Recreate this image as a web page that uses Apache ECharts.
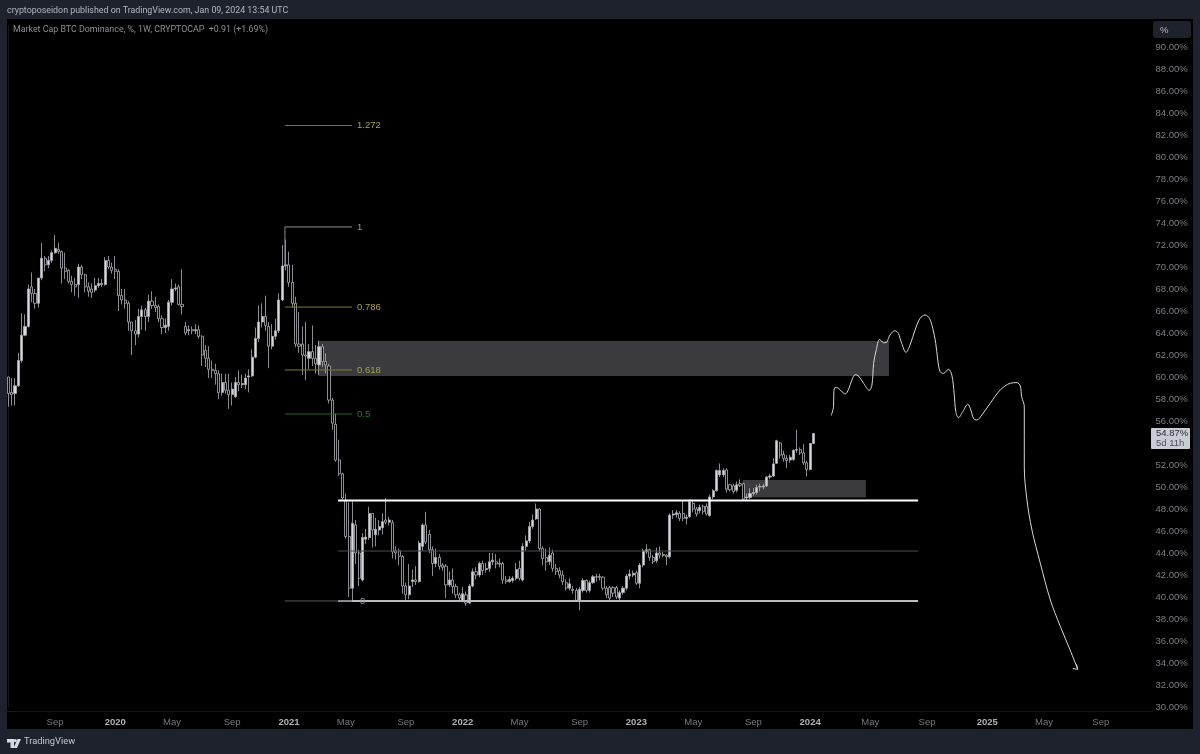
<!DOCTYPE html>
<html>
<head>
<meta charset="utf-8">
<title>BTC Dominance</title>
<style>
  html, body { margin: 0; padding: 0; background: #1e222d; }
  #main { width: 1200px; height: 754px; }
</style>
</head>
<body>
<div id="main"></div>
<script src="https://cdn.jsdelivr.net/npm/echarts@6/dist/echarts.min.js"></script>
<script>
// weekly candles, first bar is the week of 2019-05-27
var firstWeek = '2019-05-27'
var weekCount = 343

var opens = [
  60.0,58.6,58.5,59.2,61.5,63.8,64.6,68.2,67.6,66.7,
  69.0,70.8,70.2,70.6,71.3,71.6,71.4,69.9,69.7,68.7,
  68.4,68.4,70.0,69.3,68.2,68.0,67.9,68.3,68.4,68.4,
  70.6,70.0,69.8,69.6,67.4,67.0,66.7,65.0,64.2,63.9,
  65.5,66.1,65.5,66.9,66.5,66.4,65.3,64.5,64.6,66.8,
  68.0,68.2,66.6,64.6,64.2,64.3,64.2,64.3,63.7,62.4,
  61.7,60.7,60.6,60.3,58.6,59.5,58.8,58.4,58.2,59.5,
  59.3,59.3,60.0,60.1,61.8,63.5,65.0,65.5,64.6,62.8,
  63.7,64.2,67.0,70.1,70.2,68.6,66.7,63.0,63.0,62.0,
  61.7,62.3,61.7,61.1,62.75,61.4,61.0,57.9,55.7,52.45,
  51.2,48.8,45.5,40.8,46.55,44.0,41.55,45.25,45.4,47.6,
  45.65,46.1,46.3,47.0,46.8,46.75,44.2,44.2,43.7,41.0,
  40.2,41.4,41.55,41.4,44.6,46.55,45.7,44.3,43.05,43.6,
  42.9,42.8,41.1,41.55,40.95,40.2,39.7,40.2,39.45,41.0,
  42.3,42.0,43.05,42.5,42.6,43.2,43.2,43.0,43.05,41.55,
  41.4,41.5,41.7,42.6,41.55,44.6,45.1,46.4,47.1,48.0,
  44.4,43.6,43.2,44.0,42.6,42.4,42.0,41.3,40.8,40.7,
  40.6,39.7,40.6,41.5,40.6,41.3,41.85,41.8,41.8,40.8,
  40.85,40.85,40.85,39.9,40.4,40.8,41.9,42.0,42.2,41.25,
  42.9,44.1,44.3,43.6,43.3,44.0,43.8,43.8,43.65,47.45,
  47.5,47.6,47.6,47.15,47.3,48.5,48.0,47.85,48.25,48.25,
  47.4,49.1,49.65,51.1,51.1,51.55,50.2,50.1,49.7,50.3,
  50.3,49.0,49.05,49.4,49.5,50.0,50.0,50.1,50.9,51.0,
  52.15,54.0,52.95,52.6,52.45,52.5,53.35,53.4,53.1,52.2,
  51.6,53.96
]
var closes = [
  58.5,58.4,59.2,61.5,63.8,64.6,68.0,67.6,66.7,69.0,
  70.8,70.2,70.6,71.3,71.7,71.4,69.9,69.6,68.7,68.4,
  68.2,70.0,69.3,68.2,67.8,67.7,68.3,68.5,68.5,70.6,
  70.0,69.7,69.6,67.4,67.0,66.7,65.0,64.2,63.9,65.5,
  66.1,65.5,66.9,66.5,66.3,65.3,64.5,64.7,66.8,68.0,
  68.1,66.6,66.4,64.0,64.3,64.2,64.3,63.7,62.0,61.7,
  60.7,60.6,60.3,58.6,59.5,58.8,58.4,58.9,59.5,59.3,
  59.4,59.9,60.1,61.8,63.5,65.0,65.5,64.7,62.8,63.7,
  64.2,67.0,70.1,70.2,68.6,66.7,63.0,62.8,62.0,61.9,
  62.3,61.7,61.2,62.75,61.4,61.1,57.9,55.8,52.45,51.2,
  49.0,45.5,40.8,46.7,44.0,41.7,45.4,45.45,47.6,46.1,
  46.15,46.4,46.85,46.8,47.0,44.1,44.0,43.7,41.0,40.2,
  41.0,41.55,41.4,44.9,46.55,45.0,44.3,43.05,43.6,42.8,
  42.7,41.1,41.55,40.95,40.2,39.9,40.3,39.45,41.0,42.3,
  42.0,43.05,42.4,42.6,43.2,43.35,43.0,43.05,41.55,41.4,
  41.6,41.7,42.5,41.7,44.6,45.1,46.4,47.0,48.0,44.4,
  43.5,43.2,43.8,42.6,42.3,42.0,41.4,40.8,41.2,40.6,
  39.7,40.7,41.5,40.6,41.3,41.85,41.8,41.85,40.8,40.2,
  39.9,40.35,40.0,40.4,40.8,41.9,42.1,42.15,41.25,42.9,
  44.2,44.3,43.6,43.2,44.0,43.8,43.85,43.65,47.45,47.55,
  47.65,47.15,47.15,47.25,48.65,48.0,47.55,48.15,47.75,47.55,
  49.1,49.65,51.5,51.5,51.5,49.8,49.75,49.6,50.2,50.15,
  48.9,49.1,49.4,49.5,49.95,50.05,50.1,50.9,51.0,52.1,
  54.2,52.9,52.6,52.4,52.7,53.35,53.4,53.1,52.2,51.6,
  53.95,54.87
]
var lows = [
  57.3,57.4,57.4,59.1,61.3,63.7,64.5,66.8,66.2,66.3,
  68.8,69.6,69.9,70.4,71.2,71.2,68.5,68.9,68.5,67.7,
  67.4,67.2,68.9,67.7,67.3,67.2,67.7,68.1,68.2,68.3,
  69.8,69.4,68.9,66.0,66.6,66.2,64.2,62.0,62.9,63.6,
  64.3,64.2,65.0,66.2,65.9,65.0,63.9,64.0,64.2,66.5,
  67.8,66.5,65.7,63.8,63.8,63.9,63.9,63.5,61.0,60.9,
  59.9,59.9,59.3,58.0,58.3,58.5,57.1,57.4,58.1,58.7,
  59.0,58.9,58.6,60.0,61.7,63.2,64.5,64.2,60.8,62.5,
  63.4,64.0,66.9,69.7,68.2,66.3,62.7,62.2,60.2,59.7,
  60.7,61.0,60.3,60.2,60.9,60.33,57.6,55.2,52.3,51.0,
  48.9,45.3,40.0,39.7,43.0,41.0,41.4,44.8,45.2,44.5,
  44.6,45.6,45.7,46.6,46.5,43.5,43.4,42.9,40.3,39.7,
  39.8,40.9,41.1,41.3,44.2,44.8,44.0,41.9,42.7,42.5,
  42.4,39.9,40.9,40.3,39.9,39.7,39.5,39.2,39.4,40.9,
  41.6,41.8,42.0,42.2,42.3,42.9,42.6,42.7,41.2,41.2,
  41.3,41.3,41.5,41.5,41.4,44.2,44.9,46.2,47.0,44.2,
  42.9,42.4,42.9,42.3,42.0,41.7,41.1,40.6,40.6,40.3,
  39.6,38.8,40.4,40.4,40.4,41.2,41.4,41.5,40.6,39.9,
  39.7,40.0,39.8,39.7,40.2,40.6,41.6,41.8,41.1,40.8,
  42.7,43.9,43.3,43.0,43.1,43.5,43.6,42.9,43.5,47.1,
  47.2,46.9,46.9,46.6,47.2,47.7,47.3,47.6,47.5,47.4,
  47.3,48.9,49.6,50.9,50.9,49.5,49.6,49.4,49.5,50.0,
  48.8,48.8,48.9,49.2,49.3,49.6,49.8,50.0,50.7,50.9,
  52.1,52.6,52.3,51.7,52.2,52.4,53.1,52.9,52.0,50.95,
  51.5,53.9
]
var highs = [
  60.0,59.9,59.9,62.2,65.8,65.7,68.4,69.5,68.0,69.0,
  72.2,71.0,71.0,71.5,72.9,72.2,71.5,71.3,69.8,69.2,
  69.0,70.3,70.2,69.4,68.6,68.5,69.0,69.0,68.9,70.9,
  71.0,70.4,71.0,69.8,68.0,68.0,66.9,65.0,65.2,66.2,
  66.5,66.3,67.5,67.8,67.3,66.6,65.6,65.3,67.0,68.9,
  68.5,68.4,69.8,65.0,64.7,64.6,64.8,64.7,63.8,62.9,
  62.8,61.5,61.2,60.6,60.3,60.3,60.3,59.5,60.0,60.6,
  60.2,60.3,60.7,62.5,64.5,66.5,66.7,67.4,65.0,64.8,
  65.3,67.6,72.0,72.5,71.4,70.2,67.3,65.9,64.6,65.0,
  63.0,64.7,62.9,63.3,63.0,62.15,61.2,58.1,56.7,54.3,
  51.3,49.4,48.6,48.7,47.0,44.3,45.8,46.2,48.2,47.6,
  47.2,47.0,47.6,49.0,47.3,47.0,44.6,44.4,43.8,41.3,
  43.0,42.5,42.8,45.1,46.7,47.75,46.1,44.6,44.4,43.9,
  43.1,43.0,42.3,42.6,41.2,40.4,40.9,40.5,41.2,42.6,
  42.7,43.2,43.3,43.1,44.0,44.0,43.9,43.5,43.2,41.9,
  41.9,41.9,43.1,43.3,44.9,45.6,46.8,47.5,48.5,48.1,
  44.6,44.4,44.5,44.3,43.0,42.7,42.4,41.6,41.7,41.0,
  40.8,40.9,41.7,41.6,41.5,42.0,42.1,42.1,41.9,41.0,
  41.0,41.0,41.0,40.6,41.0,42.1,42.5,42.4,42.4,43.1,
  44.4,44.8,44.4,43.8,44.5,44.6,44.1,43.9,47.6,47.9,
  47.9,47.8,48.8,47.5,48.9,48.8,48.2,48.4,48.4,48.5,
  49.3,49.8,51.6,52.15,51.7,51.7,50.3,50.3,50.5,50.7,
  50.4,49.4,49.9,49.9,50.2,50.3,50.3,51.0,51.2,52.6,
  54.3,54.1,53.3,52.9,52.9,53.4,55.2,53.6,53.9,52.4,
  54.0,54.9
]

// time axis labels
var tickDates = ['2019-09-02','2020-01-06','2020-05-04','2020-09-07','2021-01-04','2021-05-03','2021-09-06','2022-01-03','2022-05-02','2022-09-05','2023-01-02','2023-05-01','2023-09-04','2024-01-01','2024-05-06','2024-09-02','2025-01-06','2025-05-05','2025-09-01']
var tickLabels = ['Sep','2020','May','Sep','2021','May','Sep','2022','May','Sep','2023','May','Sep','2024','May','Sep','2025','May','Sep']

// fib levels, x is in weeks since firstWeek
var fibNames = ['1.272','1','0.786','0.618','0.5','0']
var fibValues = [82.86,73.64,66.36,60.64,56.64,39.64]
var fibColors = ['#7f7a30','#8f8f96','#7f7a30','#7f7a30','#1f6a22','#5a5a5e']
var fibLabelColors = ['#a8a24a','#9a9aa0','#a8a24a','#a8a24a','#2a7a2e','#a0a0a6']
var fibStart = 82.8
var fibEnd = 102.9

// range lines
var rangeValues = [48.77,44.18,39.64]
var rangeColors = ['#ffffff','#4e4e52','#bcbcc0']
var rangeWidths = [2,1,2]
var rangeStart = 98.7
var rangeEnd = 272.3

// the two zones
var zoneStarts = [92.7,219.8]
var zoneEnds = [263.6,256.7]
var zoneTops = [63.27,50.64]
var zoneBottoms = [60.09,49.05]

// hand drawn projection
var drawWeeks = [246.3,247.0,247.1,247.5,248.5,249.5,250.5,251.5,252.5,253.5,254.5,256.0,257.7,258.5,259.0,259.8,260.8,262.0,262.7,263.9,265.4,266.4,267.4,268.7,269.9,271.4,272.9,274.4,275.7,276.7,277.6,278.2,278.9,279.9,281.4,282.4,283.1,283.6,284.4,285.7,287.2,288.1,288.9,289.9,291.4,293.9,296.9,299.9,301.9,302.9,303.3,304.1,304.1,304.9,306.4,308.9,311.9,314.9,317.8,320.1]
var drawValues = [56.49,57.30,58.67,59.06,58.97,58.67,58.46,58.88,59.73,60.21,60.09,59.43,58.79,59.27,61.24,62.46,63.42,63.12,63.12,63.82,64.21,63.97,63.06,62.24,62.91,64.27,65.33,65.64,65.33,64.42,63.06,61.55,60.49,60.33,60.70,60.18,58.52,56.85,56.30,56.85,57.52,57.0,56.24,56.09,56.55,57.61,58.82,59.43,59.49,59.18,58.21,57.30,51.85,48.82,46.09,43.06,39.73,37.31,35.19,33.43]
var arrowWeeks = [318.6,320.1,319.7]
var arrowValues = [33.49,33.43,33.88]

var lastPrice = 54.87

var weeks = []
var d0 = new Date(firstWeek + 'T00:00:00Z').getTime()
for (var i = 0; i < weekCount; i++) {
  weeks.push(new Date(d0 + i * 7 * 86400000).toISOString().slice(0, 10))
}

var candles = []
for (var i = 0; i < opens.length; i++) {
  candles.push([opens[i], closes[i], lows[i], highs[i]])
}

function pairs(xs, ys) {
  var out = []
  for (var i = 0; i < xs.length; i++) out.push([xs[i], ys[i]])
  return out
}

var font = '"Liberation Sans", Arial, sans-serif'
var series = []

// zones sit under the candles
var zones = []
for (var i = 0; i < zoneStarts.length; i++) {
  zones.push([zoneStarts[i], zoneEnds[i], zoneTops[i], zoneBottoms[i]])
}
series.push({
  type: 'custom',
  xAxisIndex: 1,
  silent: true,
  z: 1,
  clip: true,
  data: zones,
  renderItem: function (params, api) {
    var a = api.coord([api.value(0), api.value(2)])
    var b = api.coord([api.value(1), api.value(3)])
    return { type: 'rect', shape: { x: a[0], y: a[1], width: b[0] - a[0], height: b[1] - a[1] }, style: { fill: '#3b3b3f' } }
  }
})

series.push({
  type: 'candlestick',
  name: 'BTC.D',
  xAxisIndex: 0,
  z: 3,
  barWidth: 2.6,
  data: candles,
  itemStyle: { color: '#d6d8de', color0: '#000000', borderColor: '#aeb0b6', borderColor0: '#aeb0b6', borderWidth: 0.8 }
})

function addLine(data, color, width, z, extra) {
  var s = { type: 'line', xAxisIndex: 1, silent: true, showSymbol: false, symbol: 'none', z: z, data: data, lineStyle: { color: color, width: width } }
  for (var k in extra) s[k] = extra[k]
  series.push(s)
}

for (var i = 0; i < rangeValues.length; i++) {
  addLine([[rangeStart, rangeValues[i]], [rangeEnd, rangeValues[i]]], rangeColors[i], rangeWidths[i], 4)
}

for (var i = 0; i < fibValues.length; i++) {
  addLine([[fibStart, fibValues[i]], [fibEnd, fibValues[i]]], fibColors[i], 1, 5, {
    endLabel: {
      show: true,
      distance: i == 5 ? 8 : 5,
      formatter: fibNames[i],
      color: fibLabelColors[i],
      fontFamily: font,
      fontSize: 9.5
    }
  })
}
// leg from the 1 level down to the top
addLine([[fibStart, 73.64], [fibStart, 70.0]], '#8f8f96', 1, 5)

addLine(pairs(drawWeeks, drawValues), '#d8d8dc', 1, 6, { smooth: 0.35 })
addLine(pairs(arrowWeeks, arrowValues), '#d8d8dc', 1, 6)

var chart = echarts.init(document.getElementById('main'), null, { renderer: 'canvas' })

chart.setOption({
  animation: false,
  backgroundColor: '#1e222d',
  grid: { left: 6.63, top: 25, width: 1145.96, height: 682 },
  xAxis: [
    {
      type: 'category',
      data: weeks,
      boundaryGap: true,
      offset: 4,
      axisLine: { show: true, lineStyle: { color: '#15171c', width: 1 } },
      axisTick: { show: false },
      splitLine: { show: false },
      axisLabel: {
        margin: 6,
        hideOverlap: false,
        interval: function (idx, val) { return tickDates.indexOf(val) >= 0 },
        formatter: function (val) {
          var t = tickLabels[tickDates.indexOf(val)]
          return /^\d/.test(t) ? '{y|' + t + '}' : t
        },
        color: '#75787f',
        fontFamily: font,
        fontSize: 9.5,
        rich: { y: { color: '#b0b2b8', fontWeight: 'bold', fontFamily: font, fontSize: 9.5 } }
      }
    },
    { type: 'value', show: false, min: -0.5, max: weekCount - 0.5, splitLine: { show: false } }
  ],
  yAxis: {
    type: 'value',
    position: 'right',
    min: 30,
    max: 92,
    interval: 2,
    axisLine: { show: true, lineStyle: { color: '#15171c' } },
    axisTick: { show: false },
    splitLine: { show: false },
    axisLabel: {
      margin: 3,
      color: '#7c7e84',
      fontFamily: font,
      fontSize: 9.5,
      formatter: function (v) { return v == 92 ? '' : v.toFixed(2) + '%' }
    }
  },
  series: series
})

// page furniture, price tag follows the y axis
var tagY = chart.convertToPixel({ yAxisIndex: 0 }, lastPrice)
var textFont = '8.85px Roboto, ' + font
chart.setOption({
  graphic: [
    { type: 'rect', z: -10, shape: { x: 7, y: 19, width: 1186, height: 710 }, style: { fill: '#000000' } },
    { type: 'text', x: 7, y: 6, style: { text: 'cryptoposeidon published on TradingView.com, Jan 09, 2024 13:54 UTC', fill: '#b4b7c0', font: textFont } },
    { type: 'text', x: 13, y: 25, style: { text: 'Market Cap BTC Dominance, %, 1W, CRYPTOCAP  +0.91 (+1.69%)', fill: '#8b8e96', font: textFont } },
    { type: 'rect', shape: { x: 1153, y: 21, width: 38, height: 17, r: 3 }, style: { fill: '#1e222d' } },
    { type: 'text', x: 1160, y: 25, style: { text: '%', fill: '#b4b7c0', font: '9.5px ' + font } },
    { type: 'rect', z: 20, shape: { x: 1151, y: tagY - 5.5, width: 39, height: 21, r: 1 }, style: { fill: '#c9ccd3' } },
    { type: 'text', z: 21, x: 1156, y: tagY - 5, style: { text: lastPrice.toFixed(2) + '%', fill: '#2a2d38', font: '9.5px ' + font } },
    { type: 'text', z: 21, x: 1156, y: tagY + 5, style: { text: '5d 11h', fill: '#4a4d58', font: '9.5px ' + font } },
    // logo
    { type: 'polygon', shape: { points: [[7, 739], [14, 739], [14, 748], [10.5, 748], [10.5, 742.5], [7, 742.5]] }, style: { fill: '#d8dae0' } },
    { type: 'circle', shape: { cx: 15.3, cy: 740.6, r: 1.6 }, style: { fill: '#d8dae0' } },
    { type: 'polygon', shape: { points: [[17.5, 739], [21, 739], [17, 748], [13.5, 748]] }, style: { fill: '#d8dae0' } },
    { type: 'text', x: 24, y: 737, style: { text: 'TradingView', fill: '#c4c6cc', font: '9.3px Roboto, ' + font } }
  ]
})
</script>
</body>
</html>
